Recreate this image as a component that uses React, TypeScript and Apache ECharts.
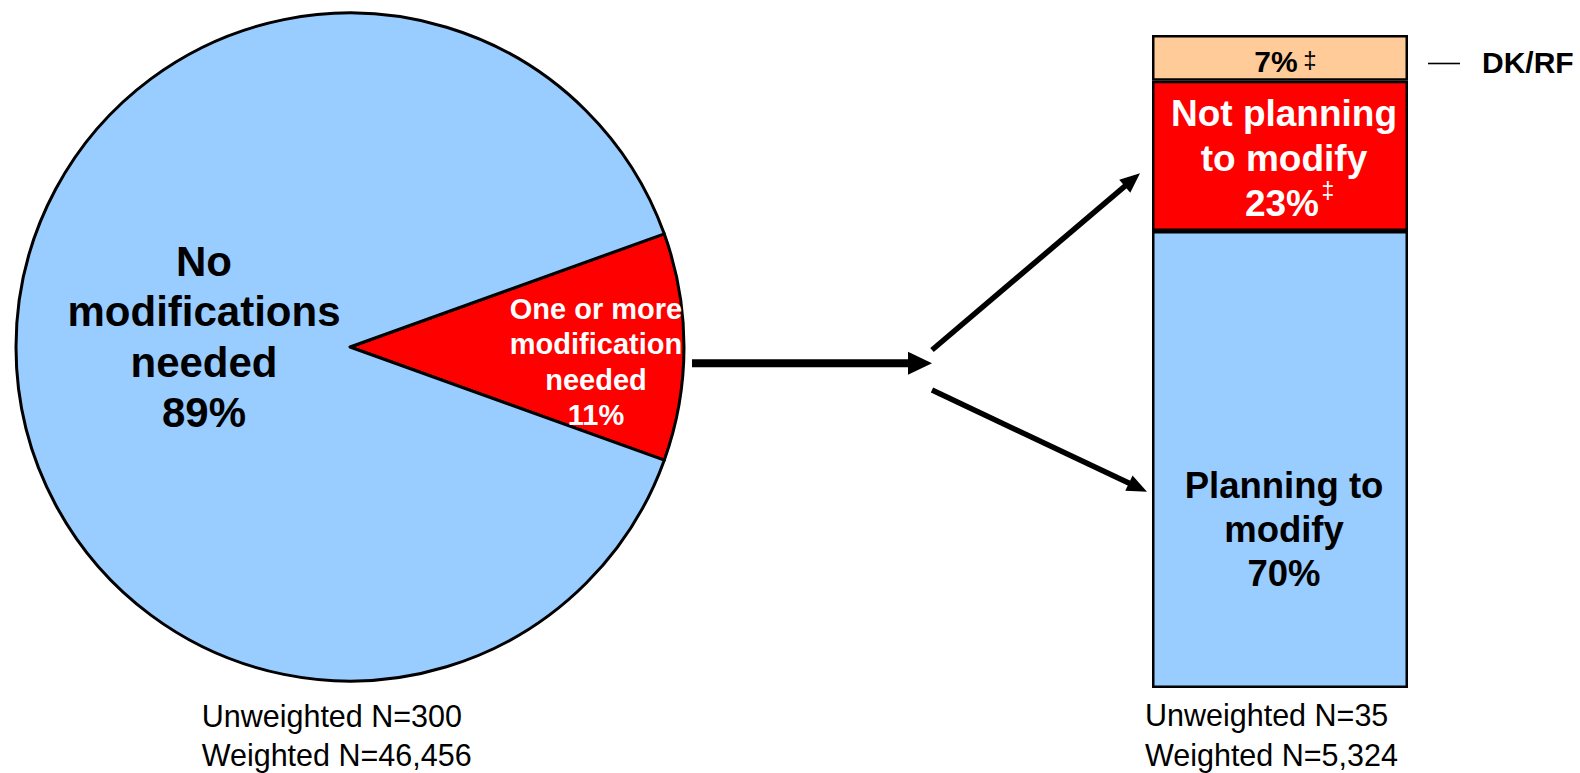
import React, { useEffect, useRef } from "react";
import * as echarts from "echarts";

// ---- data ----
const pieCategories = ["One or more modification needed", "No modifications needed"];
const pieValues = [11, 89];
const pieColors = ["#FF0000", "#99CCFF"];

const barCategories = ["Planning to modify", "Not planning to modify", "DK/RF"];
const barValues = [70, 23, 7];
const barColors = ["#99CCFF", "#FF0000", "#FFCC99"];

const pieNotes = ["Unweighted N=300", "Weighted N=46,456"];
const barNotes = ["Unweighted N=35", "Weighted N=5,324"];

const pieLabelNo = ["No", "modifications", "needed", pieValues[1] + "%"];
const pieLabelYes = ["One or more", "modification", "needed", pieValues[0] + "%"];
const barLabelPlan = ["Planning to", "modify", barValues[0] + "%"];
const barLabelNot = ["Not planning", "to modify"];
const barLabelNotPct = barValues[1] + "%";
const barLabelDk = barValues[2] + "%";
const dagger = "\u2021";

const FONT = "'Liberation Sans', Arial, sans-serif";

function arrow(x1: number, y1: number, x2: number, y2: number, w: number, headLen: number, headHalf: number) {
  const dx = x2 - x1;
  const dy = y2 - y1;
  const len = Math.sqrt(dx * dx + dy * dy);
  const ux = dx / len;
  const uy = dy / len;
  const bx = x2 - ux * headLen;
  const by = y2 - uy * headLen;
  const px = -uy;
  const py = ux;
  return [
    {
      type: "line",
      z: 100,
      shape: { x1, y1, x2: bx + ux * 1, y2: by + uy * 1 },
      style: { stroke: "#000", lineWidth: w },
    },
    {
      type: "polygon",
      z: 100,
      shape: {
        points: [
          [x2, y2],
          [bx + px * headHalf, by + py * headHalf],
          [bx - px * headHalf, by - py * headHalf],
        ],
      },
      style: { fill: "#000" },
    },
  ];
}

export default function App() {
  const ref = useRef<HTMLDivElement>(null);

  useEffect(() => {
    if (!ref.current) return;
    const chart = echarts.init(ref.current, null, { renderer: "svg" });

    const txt = (text: string, x: number, y: number, size: number, color: string, weight: string, align: string, lineHeight?: number) => ({
      type: "text",
      z: 100,
      x,
      y,
      style: {
        text,
        fill: color,
        fontSize: size,
        fontWeight: weight,
        fontFamily: FONT,
        align,
        verticalAlign: "middle",
        lineHeight: lineHeight || size * 1.2,
      },
    });

    const option: any = {
      animation: false,
      backgroundColor: "#ffffff",
      grid: { left: 1152, top: 35, width: 256, height: 653 },
      xAxis: { type: "category", data: ["modify"], show: false },
      yAxis: { type: "value", min: 0, max: 100, show: false },
      series: [
        {
          type: "pie",
          center: [350, 347],
          radius: 334,
          startAngle: 19.8,
          clockwise: true,
          label: { show: false },
          labelLine: { show: false },
          silent: true,
          itemStyle: { borderColor: "#000", borderWidth: 3 },
          data: pieCategories.map((c, i) => ({
            name: c,
            value: pieValues[i],
            itemStyle: { color: pieColors[i] },
          })),
        },
        ...barCategories.map((c, i) => ({
          type: "bar",
          name: c,
          stack: "total",
          barWidth: "100%",
          silent: true,
          data: [barValues[i]],
          itemStyle: { color: barColors[i], borderColor: "#000", borderWidth: 2.5 },
          label: { show: false },
        })),
      ],
      graphic: [
        // pie labels
        txt(pieLabelNo.join("\n"), 204, 337, 42, "#000", "bold", "center", 50.6),
        txt(pieLabelYes.join("\n"), 596, 362, 29, "#fff", "bold", "center", 35.2),
        // bar labels
        txt(barLabelPlan.join("\n"), 1284, 529.5, 36.5, "#000", "bold", "center", 44.2),
        txt(barLabelNot[0], 1284, 113.2, 37, "#fff", "bold", "center", 37),
        txt(barLabelNot[1], 1284, 158.2, 37, "#fff", "bold", "center", 37),
        txt(barLabelNotPct, 1282, 203, 37, "#fff", "bold", "center", 37),
        txt(dagger, 1328, 190.5, 23, "#fff", "normal", "center", 16),
        txt(barLabelDk, 1276, 61.6, 30, "#000", "bold", "center"),
        txt(dagger, 1310, 59, 24, "#000", "normal", "center", 18),
        // DK/RF legend
        {
          type: "line",
          z: 100,
          shape: { x1: 1428, y1: 63.5, x2: 1460, y2: 63.5 },
          style: { stroke: "#000", lineWidth: 1.6 },
        },
        txt(barCategories[2], 1482, 62.9, 30, "#000", "bold", "left"),
        // notes
        txt(pieNotes[0], 201.7, 715.5, 30.5, "#000", "normal", "left", 28),
        txt(pieNotes[1], 201.7, 755, 30.5, "#000", "normal", "left", 28),
        txt(barNotes[0], 1145, 714.5, 30.5, "#000", "normal", "left", 28),
        txt(barNotes[1], 1145, 754.5, 30.5, "#000", "normal", "left", 28),
        // arrows
        ...arrow(692, 363.3, 932, 363.3, 8, 24, 11.5),
        ...arrow(932, 350, 1140, 173.3, 5.5, 20, 8.5),
        ...arrow(932, 390, 1147, 491.7, 5.5, 20, 8.5),
      ],
    };

    chart.setOption(option);
    return () => chart.dispose();
  }, []);

  return (
    <div
      ref={ref}
      style={{ position: "fixed", left: 0, top: 0, width: 1580, height: 773, background: "#fff" }}
    />
  );
}
